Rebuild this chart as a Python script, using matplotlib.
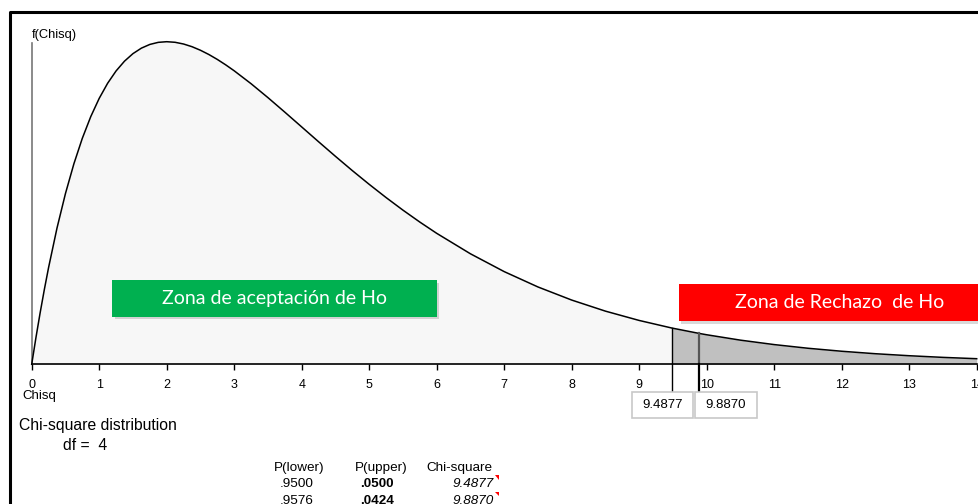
import matplotlib
matplotlib.use("Agg")
import matplotlib.pyplot as plt
from matplotlib.patches import Rectangle, Polygon
from matplotlib.lines import Line2D

plt.rcParams['font.family'] = ['Liberation Sans', 'DejaVu Sans']

chisq_x = [0, 0.0625, 0.125, 0.1875, 0.25, 0.375, 0.5, 0.625, 0.75, 0.875, 1, 1.125,
           1.25, 1.375, 1.5, 1.625, 1.75, 1.875, 2, 2.125, 2.25, 2.375, 2.5, 2.625, 2.75,
           2.875, 3, 3.25, 3.5, 3.75, 4, 4.25, 4.5, 4.75, 5, 5.25, 5.5, 5.75, 6, 6.5, 7,
           7.5, 8, 8.5, 9, 9.4877, 9.5, 9.887, 10, 10.5, 11, 11.5, 12, 12.5, 13, 13.5, 14]
f_chisq = [0, 0.01514, 0.02936, 0.04268, 0.05516, 0.07772, 0.09735, 0.11432, 0.12887,
           0.14124, 0.15163, 0.16025, 0.16727, 0.17285, 0.17714, 0.18027, 0.18238,
           0.18357, 0.18394, 0.18360, 0.18262, 0.18109, 0.17906, 0.17663, 0.17383,
           0.17072, 0.16735, 0.15999, 0.15205, 0.14377, 0.13534, 0.12690, 0.11858,
           0.11045, 0.10261, 0.09508, 0.08790, 0.08110, 0.07468, 0.06301, 0.05285,
           0.04410, 0.03663, 0.03031, 0.02500, 0.02064, 0.02055, 0.01762, 0.01684,
           0.01377, 0.01124, 0.00915, 0.00744, 0.00603, 0.00489, 0.00395, 0.00319]
ticks = list(range(0, 15))

chi_crit = 9.4877
chi_obs = 9.8870
df = 4
tabla_cab = ["P(lower)", "P(upper)", "Chi-square"]
p_lower = [".9500", ".9576"]
p_upper = [".0500", ".0424"]
chi_val = ["9.4877", "9.8870"]

W, H = 979, 504
fig = plt.figure(figsize=(W / 100, H / 100), dpi=100)


def fx(x):
    return x / W


def fy(y):
    return 1 - y / H


# ejes: x de 0 a 14, base en y=364 px
ax = fig.add_axes([fx(31.7), fy(364.3), (976.7 - 31.7) / W, (364.3 - 43) / H])
ax.set_xlim(0, 14)
ax.set_ylim(0, 0.1832)
ax.patch.set_alpha(0)

zona_ok = [(x, y) for x, y in zip(chisq_x, f_chisq) if x <= chi_crit]
zona_rech = [(x, y) for x, y in zip(chisq_x, f_chisq) if x >= chi_crit]

ax.fill_between([p[0] for p in zona_ok], [p[1] for p in zona_ok], 0,
                color="#f7f7f7", lw=0, clip_on=False)
ax.fill_between([p[0] for p in zona_rech], [p[1] for p in zona_rech], 0,
                color="#c0c0c0", lw=0, clip_on=False)
ax.plot(chisq_x, f_chisq, color="black", lw=1.1, clip_on=False, zorder=5)

# líneas verticales del valor crítico y del observado
y_crit = f_chisq[chisq_x.index(chi_crit)]
y_obs = f_chisq[chisq_x.index(chi_obs)]
ax.plot([chi_crit, chi_crit], [y_crit, -0.0156], color="black", lw=1.0, clip_on=False, zorder=6)
ax.plot([chi_obs, chi_obs], [y_obs, 0], color="#555555", lw=1.6, clip_on=False, zorder=6)
ax.plot([chi_obs, chi_obs], [0, -0.0156], color="black", lw=1.6, clip_on=False, zorder=6)

for s in ["top", "right"]:
    ax.spines[s].set_visible(False)
ax.spines["bottom"].set_color("black")
ax.spines["bottom"].set_linewidth(1.2)
ax.spines["left"].set_color("#777777")
ax.spines["left"].set_linewidth(1.2)
ax.set_yticks([])
ax.set_xticks(ticks)
ax.set_xticklabels([str(t) for t in ticks], fontsize=9)
ax.tick_params(axis="x", direction="out", length=4, width=1, pad=6.5, color="black")

# cajas con los valores
for xv, txt, (l, r) in [(chi_crit, chi_val[0], (631.7, 692.7)), (chi_obs, chi_val[1], (695.3, 756.7))]:
    fig.patches.append(Rectangle((fx(l), fy(418.3)), (r - l) / W, (418.3 - 392.3) / H,
                                 transform=fig.transFigure, facecolor="white",
                                 edgecolor="#c8c8c8", lw=1.2))
    fig.text(fx((l + r) / 2), fy(405.5), txt, ha="center", va="center", fontsize=9.5)

# etiquetas de zona
def caja_zona(x0, y0, x1, y1, color, texto):
    fig.patches.append(Rectangle((fx(x0 + 2.5), fy(y1 + 2.5)), (x1 - x0) / W, (y1 - y0) / H,
                                 transform=fig.transFigure, facecolor="#000000",
                                 alpha=0.15, lw=0, zorder=8))
    fig.patches.append(Rectangle((fx(x0), fy(y1)), (x1 - x0) / W, (y1 - y0) / H,
                                 transform=fig.transFigure, facecolor=color, lw=0, zorder=9))
    fig.text(fx((x0 + x1) / 2), fy((y0 + y1) / 2), texto, ha="center", va="center",
             color="white", fontsize=14, family=["Lato", "DejaVu Sans"], zorder=10)


caja_zona(112.3, 280, 436.7, 316.7, "#00b050", "Zona de aceptación de Ho")
caja_zona(679, 284, 1000, 321, "#ff0000", "Zona de Rechazo  de Ho")

# textos
fig.text(fx(32), fy(35), "f(Chisq)", ha="left", va="center", fontsize=9.3)
fig.text(fx(22), fy(396), "Chisq", ha="left", va="center", fontsize=9.5)
fig.text(fx(19), fy(425.7), "Chi-square distribution", ha="left", va="center", fontsize=11.3)
fig.text(fx(63), fy(446), "df =  %d" % df, ha="left", va="center", fontsize=11.3)

# tabla de probabilidades
col_x = [299.5, 381, 459.5]
for cx, cab in zip(col_x, tabla_cab):
    fig.text(fx(cx), fy(467.7), cab, ha="center", va="center", fontsize=9.7)
for i, fila_y in enumerate([484.3, 500.5]):
    fig.text(fx(297), fy(fila_y), p_lower[i], ha="center", va="center", fontsize=9.7)
    fig.text(fx(377), fy(fila_y), p_upper[i], ha="center", va="center", fontsize=9.7,
             weight="bold")
    fig.text(fx(494), fy(fila_y), chi_val[i], ha="right", va="center", fontsize=9.7,
             style="italic")
    fig.patches.append(Polygon([(fx(495), fy(fila_y - 9)), (fx(499.5), fy(fila_y - 9)),
                                (fx(499.5), fy(fila_y - 4.5))], closed=True,
                               transform=fig.transFigure, facecolor="red", lw=0))

# marco exterior
fig.lines.append(Line2D([fx(10), fx(10), fx(990)], [fy(510), fy(12), fy(12)],
                        transform=fig.transFigure, color="black", lw=2.2))

fig.savefig("out.png", dpi=100)
